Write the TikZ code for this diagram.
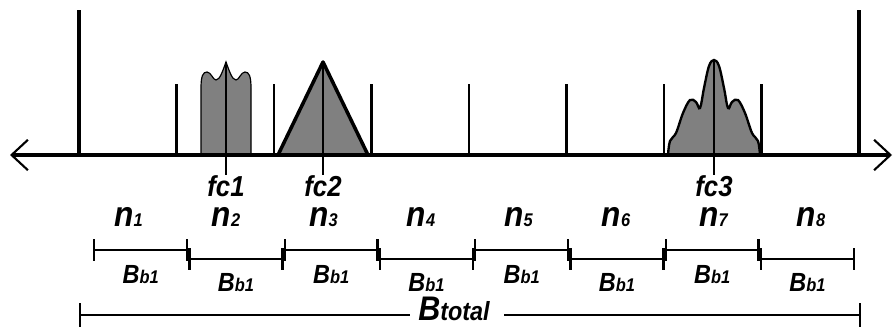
\documentclass[tikz,border=0pt]{standalone}
\usepackage{fontspec}
\usepackage{graphicx}
\setmainfont{Liberation Sans}
\usetikzlibrary{arrows.meta}

\definecolor{bandgray}{HTML}{808080}

\newcommand{\tall}[1]{\scalebox{1}[1.12]{#1}}
\newcommand{\nlab}[1]{\tall{{\fontsize{27}{27}\selectfont n}{\fontsize{14}{14}\selectfont #1}}}
\newcommand{\bblab}{\tall{{\fontsize{20}{20}\selectfont B}{\fontsize{14}{14}\selectfont b1}}}

\tikzset{
  lab/.style={font=\bfseries\itshape, anchor=base, inner sep=0pt},
  fclab/.style={lab, font=\bfseries\itshape\fontsize{22}{22}\selectfont},
  band/.style={fill=bandgray, draw=black},
  seg/.style={line width=2pt, {Bar[width=18pt]}-{Bar[width=18pt]}},
}

\begin{document}
\begin{tikzpicture}[x=0.03cm, y=-0.03cm]
	  \useasboundingbox (0,0) rectangle (893,326);

	  % spectra
	  \filldraw[band, line width=1pt] (201,155) -- (201,88) .. controls (201,76) and (203,72) .. (207,72)
	    .. controls (211,72) and (213,80) .. (216,80) .. controls (220,80) and (223,70) .. (226,62)
	    .. controls (229,70) and (232,80) .. (236,80) .. controls (239,80) and (241,72) .. (245,72)
	    .. controls (249,72) and (251,76) .. (251,88) -- (251,155) -- cycle;
	  \filldraw[band, line width=3pt, line join=round] (278,155) -- (323,62) -- (368,155) -- cycle;
	  \filldraw[band, line width=2pt] plot[smooth, tension=0.6] coordinates {
	    (668,155) (670,141) (676,133) (683,113) (690,100) (696,102) (700,108) (704,88) (709,66) (714,60)
	    (719,66) (724,88) (728,108) (732,102) (738,100) (745,113) (752,133) (758,141) (760,155)} -- cycle;

	  % frequency axis
	  \coordinate (axl) at (10,155);
	  \coordinate (axr) at (892,155);
	  \draw[line width=3pt, {Straight Barb[length=14pt, width=26pt, line width=1.8pt]}-{Straight Barb[length=14pt, width=26pt, line width=1.8pt]}] (axl) -- (axr);

	  % band edges
	  \draw[line width=2.8pt] (79,10) -- (79,155);
	  \draw[line width=2.8pt] (859,10) -- (859,155);
	  \foreach \k in {1,...,7}
	    \draw[line width=2.2pt] (79+97.5*\k,84) -- (79+97.5*\k,155);

	  % carriers
	  \draw[line width=1.6pt] (226,62) -- (226,175);
	  \draw[line width=1.6pt] (323,62) -- (323,175);
	  \draw[line width=1.8pt] (714,60) -- (714,175);
	  \node[fclab] (fc1) at (226,196) {\tall{fc1}};
	  \node[fclab] (fc2) at (323,196) {\tall{fc2}};
	  \node[fclab] (fc3) at (714,196) {\tall{fc3}};

	  % channels
	  \foreach \i in {1,...,8}
	    \node[lab] (n\i) at (128.5+97.5*\i-97.5,226) {\nlab{\i}};

	  % sub-bands
	  \foreach \i in {1,3,5,7} {
	    \draw[seg] (93+95.25*\i-95.25,250) coordinate (s\i a) -- (93+95.25*\i,250) coordinate (s\i b);
	    \node[lab] (b\i) at (45.375+95.25*\i,283) {\bblab};
	  }
	  \foreach \i in {2,4,6,8} {
	    \draw[seg] (93+95.25*\i-95.25,259) coordinate (s\i a) -- (93+95.25*\i,259) coordinate (s\i b);
	    \node[lab] (b\i) at (45.375+95.25*\i,291) {\bblab};
	  }

	  % total band
	  \coordinate (tl) at (79,315);
	  \coordinate (tr) at (861,315);
	  \node[lab] (btot) at (454,320)
	    {\tall{{\fontsize{26}{26}\selectfont B}{\fontsize{20}{20}\selectfont total}}};
	  \draw[line width=2pt, {Bar[width=20pt]}-] (tl) -- ([xshift=-7pt]btot.west |- tl);
	  \draw[line width=2pt, -{Bar[width=20pt]}] ([xshift=12pt]btot.east |- tr) -- (tr);
	\end{tikzpicture}
\end{document}
